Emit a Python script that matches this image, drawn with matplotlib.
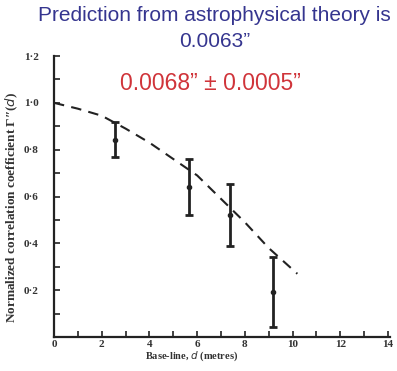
import matplotlib
matplotlib.use("Agg")
import matplotlib.pyplot as plt
from matplotlib.ticker import MultipleLocator, FixedLocator

# Measured data
baseline = [2.54, 5.64, 7.36, 9.19]
corr = [0.842, 0.640, 0.521, 0.191]
err_low = [0.072, 0.119, 0.131, 0.150]
err_high = [0.075, 0.121, 0.131, 0.152]

# Theoretical curve
curve_d = [0, 1, 2, 3, 4, 5, 6, 7, 8, 9, 10.2]
curve_v = [1.0, 0.975, 0.945, 0.89, 0.83, 0.76, 0.69, 0.59, 0.49, 0.38, 0.27]

x_ticks = [0, 2, 4, 6, 8, 10, 12, 14]
y_ticks = [0.2, 0.4, 0.6, 0.8, 1.0, 1.2]
y_tick_labels = ["0·2", "0·4", "0·6", "0·8", "1·0", "1·2"]

title_text = "Prediction from astrophysical theory is\n0.0063\u201d"
result_text = "0.0068\u201d \u00b1 0.0005\u201d"
xlabel = "Base-line, $d$ (metres)"
ylabel = "Normalized correlation coefficient \u0393\u2033($d$)"

fig = plt.figure(figsize=(3.97, 3.71), dpi=100)
ax = fig.add_axes([54/397, 1-337/371, (388-54)/397 + 0.006, (337-56)/371])

serif = "Liberation Serif"
ink = "#222222"

ax.plot(curve_d, curve_v, color=ink, lw=1.5, dashes=(5, 3.5))
ax.errorbar(baseline, corr, yerr=[err_low, err_high], fmt="o", ms=3,
            color=ink, ecolor=ink, elinewidth=2, capsize=3, capthick=2)

ax.set_xlim(0, 14.1)
ax.set_ylim(0, 1.2)
for s in ["top", "right"]:
    ax.spines[s].set_visible(False)
for s in ["left", "bottom"]:
    ax.spines[s].set_linewidth(1.6)
    ax.spines[s].set_color(ink)
ax.spines["left"].set_bounds(0, 1.2)

ax.xaxis.set_major_locator(FixedLocator(x_ticks))
ax.xaxis.set_minor_locator(MultipleLocator(1))
ax.yaxis.set_major_locator(FixedLocator(y_ticks))
ax.yaxis.set_minor_locator(MultipleLocator(0.1))
ax.set_yticklabels(y_tick_labels)
ax.tick_params(axis="both", which="both", direction="in", length=4, width=1.2,
               color=ink)
ax.tick_params(axis="x", which="major", pad=2)
ax.tick_params(axis="y", which="major", pad=11)
for lab in ax.get_xticklabels() + ax.get_yticklabels():
    lab.set_fontfamily(serif)
    lab.set_fontweight("bold")
    lab.set_fontsize(8)
    lab.set_color("#333333")

ax.set_xlabel(xlabel, fontfamily=serif, fontweight="bold", fontsize=7.5,
              color="#333333")
ax.xaxis.set_label_coords(0.41, -0.045)
ax.set_ylabel(ylabel, fontfamily=serif, fontweight="bold", fontsize=9.5,
              color="#333333")
ax.yaxis.set_label_coords(-0.1, 0.46)

fig.text(0.54, 0.984, title_text, ha="center", va="top", fontsize=15,
         color="#35358f", fontfamily="Liberation Sans", linespacing=1.45)
fig.text(0.53, 1-83/371, result_text, ha="center", va="center", fontsize=16.5,
         color="#d0343a", fontfamily="Liberation Sans")

fig.savefig("out.png", dpi=100)
